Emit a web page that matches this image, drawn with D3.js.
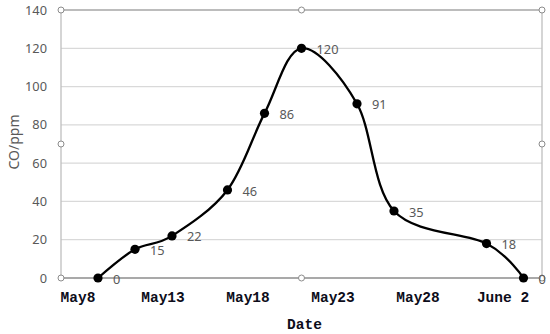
<!DOCTYPE html>
<html>
<head>
<meta charset="utf-8">
<script src="https://cdn.jsdelivr.net/npm/d3@7/dist/d3.min.js"></script>
<style>
  html, body { margin: 0; padding: 0; background: #fff; }
  svg { display: block; }
</style>
</head>
<body>
<svg id="chart" width="550" height="334"></svg>
<script>
// Tage seit der ersten Messung und CO-Werte
const days = [0, 2, 4, 7, 9, 11, 14, 16, 21, 23];
const coValues = [0, 15, 22, 46, 86, 120, 91, 35, 18, 0];
const dateLabels = ["May8", "May13", "May18", "May23", "May28", "June 2"];
const yTicks = [0, 20, 40, 60, 80, 100, 120, 140];

const W = 550, H = 334;
const margin = { top: 10, right: 8, bottom: 56, left: 61 };
const width = W - margin.left - margin.right;
const height = H - margin.top - margin.bottom;

const svg = d3.select("#chart");
const g = svg.append("g")
  .attr("transform", `translate(${margin.left},${margin.top})`);

const x = d3.scaleLinear().domain([-2, 24]).range([0, width]);
const y = d3.scaleLinear().domain([0, 140]).range([height, 0]);

// Datumsbeschriftung (eigene Zeile, nicht an Punkte gebunden)
const xLabel = d3.scalePoint().domain(dateLabels).range([17, 442]);

// Gitternetzlinien
g.selectAll("line.grid")
  .data(yTicks.filter(d => d > 0 && d < 140))
  .enter()
  .append("line")
    .attr("class", "grid")
    .attr("x1", 0)
    .attr("x2", width)
    .attr("y1", d => y(d))
    .attr("y2", d => y(d))
    .attr("stroke", "#d9d9d9")
    .attr("stroke-width", 1.3);

// Rahmen oben / rechts
g.append("line")
  .attr("x1", 0).attr("x2", width)
  .attr("y1", y(140)).attr("y2", y(140))
  .attr("stroke", "#a6a6a6").attr("stroke-width", 1.3);
g.append("line")
  .attr("x1", width).attr("x2", width)
  .attr("y1", 0).attr("y2", height)
  .attr("stroke", "#bfbfbf").attr("stroke-width", 1.3);

// Achsen
g.append("line")
  .attr("x1", 0).attr("x2", 0)
  .attr("y1", 0).attr("y2", height)
  .attr("stroke", "#bfbfbf").attr("stroke-width", 1.3);
g.append("line")
  .attr("x1", 0).attr("x2", width)
  .attr("y1", height).attr("y2", height)
  .attr("stroke", "#8c8c8c").attr("stroke-width", 1.3);

// y-Tickbeschriftungen
g.selectAll("text.ytick")
  .data(yTicks)
  .enter()
  .append("text")
    .attr("class", "ytick")
    .attr("x", -14)
    .attr("y", d => y(d))
    .attr("dy", "0.36em")
    .attr("text-anchor", "end")
    .attr("fill", "#595959")
    .attr("font-family", "'Noto Sans', sans-serif")
    .attr("font-size", "12.8px")
    .text(d => d);

// x-Beschriftungen
g.selectAll("text.xtick")
  .data(dateLabels)
  .enter()
  .append("text")
    .attr("class", "xtick")
    .attr("x", d => xLabel(d))
    .attr("y", height + 24)
    .attr("text-anchor", "middle")
    .attr("fill", "#0d0d1a")
    .attr("font-family", "'Liberation Mono', monospace")
    .attr("font-size", "14.5px")
    .attr("font-weight", "bold")
    .attr("xml:space", "preserve")
    .text(d => d);

// Achsentitel
g.append("text")
  .attr("x", width / 2 + 3)
  .attr("y", height + 51)
  .attr("text-anchor", "middle")
  .attr("fill", "#0d0d1a")
  .attr("font-family", "'Liberation Mono', monospace")
  .attr("font-size", "14.5px")
  .attr("font-weight", "bold")
  .text("Date");

g.append("text")
  .attr("transform", `translate(${-42},${height / 2 - 2}) rotate(-90)`)
  .attr("text-anchor", "middle")
  .attr("fill", "#595959")
  .attr("font-family", "'Noto Sans', sans-serif")
  .attr("font-size", "14px")
  .text("CO/ppm");

// Auswahl-Anfasser des eingebetteten Bildes
const handles = [
  [0, 0], [0.5, 0], [1, 0],
  [0, 0.5], [1, 0.5],
  [0, 1], [0.5, 1], [1, 1]
];
g.selectAll("circle.handle")
  .data(handles)
  .enter()
  .append("circle")
    .attr("class", "handle")
    .attr("cx", d => d[0] * width)
    .attr("cy", d => d[1] * height)
    .attr("r", 3)
    .attr("fill", "#fff")
    .attr("stroke", "#8c8c8c")
    .attr("stroke-width", 1);

// Datenreihe
const data = days.map((d, i) => ({ day: d, value: coValues[i] }));

const line = d3.line()
  .x(d => x(d.day))
  .y(d => y(d.value))
  .curve(d3.curveCardinal.tension(0));

g.append("path")
  .datum(data)
  .attr("d", line)
  .attr("fill", "none")
  .attr("stroke", "#000")
  .attr("stroke-width", 2.3);

g.selectAll("circle.pt")
  .data(data)
  .enter()
  .append("circle")
    .attr("class", "pt")
    .attr("cx", d => x(d.day))
    .attr("cy", d => y(d.value))
    .attr("r", 4.6)
    .attr("fill", "#000");

g.selectAll("text.val")
  .data(data)
  .enter()
  .append("text")
    .attr("class", "val")
    .attr("x", d => x(d.day) + 15)
    .attr("y", d => y(d.value) + 1)
    .attr("dy", "0.36em")
    .attr("fill", "#595959")
    .attr("font-family", "'Noto Sans', sans-serif")
    .attr("font-size", "12.8px")
    .text(d => d.value);
</script>
</body>
</html>
